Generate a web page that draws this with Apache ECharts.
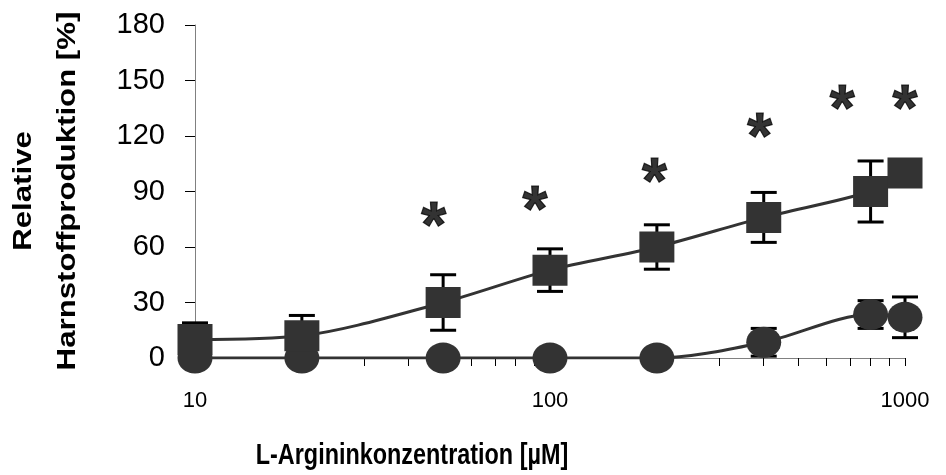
<!DOCTYPE html>
<html><head><meta charset="utf-8">
<script src="https://cdn.jsdelivr.net/npm/echarts@6/dist/echarts.min.js"></script>
<style>html,body{margin:0;padding:0;background:#fff}#c{width:946px;height:475px}</style>
</head><body><div id="c"></div>
<script>
// Data
const concentrations = [10, 20, 50, 100, 200, 400, 800, 1000];
const squareValues = [10, 12, 30, 47.5, 60, 76, 90, 100];
const squareErrors = [9, 11, 15, 11.5, 12, 13.5, 16.5, 0];
const circleValues = [0, 0, 0, 0, 0, 8.5, 23.5, 22];
const circleErrors = [0, 0, 0, 0, 0, 7.5, 7.5, 11];
const starX = [47, 90.7, 197, 390, 665, 1000];
const starY = [77, 86, 101, 125, 140.5, 140.5];
const yTicks = [0, 30, 60, 90, 120, 150, 180];
const xLabelValues = [10, 100, 1000];
const xTickValues = [10, 20, 30, 40, 50, 60, 70, 80, 90, 100, 200, 300, 400, 500, 600, 700, 800, 900, 1000];
const xTitle = 'L-Argininkonzentration [µM]';
const yTitleLines = ['Relative', 'Harnstoffproduktion [%]'];

const DARK = '#333333';
const FONT = '"Liberation Sans", Arial, sans-serif';

function pairs(xs, ys) { return xs.map((x, i) => [x, ys[i]]); }
function triples(xs, ys, es) { return xs.map((x, i) => [x, ys[i], es[i]]); }

function errRender(params, api) {
  const x = api.value(0), y = api.value(1), e = api.value(2);
  if (!e) return null;
  const top = api.coord([x, y + e]);
  const bot = api.coord([x, y - e]);
  const cap = 13;
  const st = { stroke: '#000', lineWidth: 3 };
  return {
    type: 'group',
    children: [
      { type: 'line', shape: { x1: top[0], y1: top[1], x2: bot[0], y2: bot[1] }, style: st },
      { type: 'line', shape: { x1: top[0] - cap, y1: top[1], x2: top[0] + cap, y2: top[1] }, style: st },
      { type: 'line', shape: { x1: bot[0] - cap, y1: bot[1], x2: bot[0] + cap, y2: bot[1] }, style: st }
    ]
  };
}

const chart = echarts.init(document.getElementById('c'), null, { renderer: 'canvas' });
chart.setOption({
  animation: false,
  backgroundColor: '#fff',
  grid: { left: 195, right: 41, top: 25, bottom: 117 },
  graphic: [
    {
      type: 'text', x: 412, y: 456, scaleX: 0.78, scaleY: 1,
      style: { text: xTitle, font: 'bold 30px "Liberation Sans", Arial, sans-serif', fill: '#000', align: 'center', verticalAlign: 'middle' }
    },
    {
      type: 'text', x: 24, y: 191, rotation: Math.PI / 2, scaleX: 1.2, scaleY: 1,
      style: { text: yTitleLines[0], font: 'bold 26px "Liberation Sans", Arial, sans-serif', fill: '#000', align: 'center', verticalAlign: 'middle' }
    },
    {
      type: 'text', x: 68, y: 191, rotation: Math.PI / 2, scaleX: 1.2, scaleY: 1,
      style: { text: yTitleLines[1], font: 'bold 26px "Liberation Sans", Arial, sans-serif', fill: '#000', align: 'center', verticalAlign: 'middle' }
    }
  ],
  xAxis: {
    type: 'log', logBase: 10, min: 10, max: 1000,
    axisLine: { show: true, onZero: false, lineStyle: { color: '#808080', width: 1 } },
    axisTick: { show: true, inside: false, length: 8, customValues: xTickValues, lineStyle: { color: '#000', width: 1 } },
    axisLabel: { customValues: xLabelValues, formatter: v => String(Math.round(v)), fontFamily: FONT, fontSize: 22, color: '#000', margin: 32 },
    splitLine: { show: false }, minorTick: { show: false }
  },
  yAxis: {
    type: 'value', min: 0, max: 180, interval: 30,
    axisLine: { show: true, lineStyle: { color: '#808080', width: 1 } },
    axisTick: { show: true, inside: false, length: 10, lineStyle: { color: '#000', width: 1 } },
    axisLabel: { fontFamily: FONT, fontSize: 29, color: '#000', margin: 30, customValues: yTicks },
    splitLine: { show: false }
  },
  series: [
    {
      type: 'custom', name: 'errSquare', renderItem: errRender, z: 1,
      data: triples(concentrations, squareValues, squareErrors), encode: { x: 0, y: 1 }
    },
    {
      type: 'custom', name: 'errCircle', renderItem: errRender, z: 1,
      data: triples(concentrations, circleValues, circleErrors), encode: { x: 0, y: 1 }
    },
    {
      type: 'line', name: 'circles', z: 3,
      data: pairs(concentrations, circleValues),
      smooth: 0.3, symbol: 'circle', symbolSize: [35, 31], showAllSymbol: true,
      lineStyle: { color: DARK, width: 3 }, itemStyle: { color: DARK, borderWidth: 0 }
    },
    {
      type: 'line', name: 'squares', z: 4,
      data: pairs(concentrations, squareValues),
      smooth: 0.3, symbol: 'rect', symbolSize: [35, 31], showAllSymbol: true,
      lineStyle: { color: DARK, width: 3 }, itemStyle: { color: DARK, borderWidth: 0 }
    },
    {
      type: 'scatter', name: 'stars', z: 5,
      data: pairs(starX, starY), symbolSize: 1,
      itemStyle: { color: 'transparent' },
      label: { show: true, position: 'inside', formatter: '*', fontFamily: FONT, fontWeight: 'bold', fontSize: 64, color: '#000', textBorderColor: '#000', textBorderWidth: 1.2, offset: [0, 14] }
    }
  ]
});
</script></body></html>
